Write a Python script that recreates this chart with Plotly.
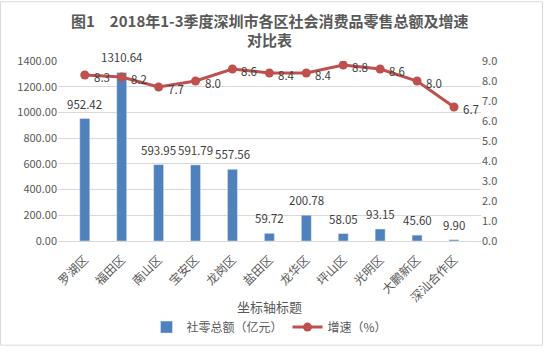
import plotly.graph_objects as go

categories = ["罗湖区", "福田区", "南山区", "宝安区", "龙岗区", "盐田区", "龙华区", "坪山区", "光明区", "大鹏新区", "深汕合作区"]
sales = [952.42, 1310.64, 593.95, 591.79, 557.56, 59.72, 200.78, 58.05, 93.15, 45.60, 9.90]
growth = [8.3, 8.2, 7.7, 8.0, 8.6, 8.4, 8.4, 8.8, 8.6, 8.0, 6.7]

FONT = "Noto Sans CJK SC"
GRAY = "#595959"
PW, PH = 423, 184
L, R, T, B = 58, 63, 61, 108

fig = go.Figure()
fig.add_trace(go.Bar(x=categories, y=sales, name="社零总额（亿元）",
                     marker_color="#4F81BD", width=0.27, yaxis="y"))
fig.add_trace(go.Scatter(x=categories, y=growth, name="增速（%）", mode="lines+markers",
                         line=dict(color="#C0504D", width=3),
                         marker=dict(color="#C0504D", size=9), yaxis="y2"))

ann = []
for c, v in zip(categories, sales):
    ann.append(dict(x=c, y=v, xref="x", yref="y", text=f"{v:.2f}", showarrow=False,
                    yanchor="bottom", yshift=5, font=dict(size=11.5, color="#404040", family=FONT)))
for c, v in zip(categories, growth):
    ann.append(dict(x=c, y=v, xref="x", yref="y2", text=f"{v:.1f}", showarrow=False,
                    xanchor="left", xshift=7, yshift=-2, font=dict(size=11.5, color="#404040", family=FONT)))
ann.append(dict(x=0.5, y=1 + (T - 20) / PH, xref="paper", yref="paper", yanchor="middle",
                text="<b>图1　2018年1-3季度深圳市各区社会消费品零售总额及增速</b>",
                showarrow=False, font=dict(size=15, color=GRAY, family=FONT)))
ann.append(dict(x=0.5, y=1 + (T - 39) / PH, xref="paper", yref="paper", yanchor="middle",
                text="<b>对比表</b>",
                showarrow=False, font=dict(size=15, color=GRAY, family=FONT)))
ann.append(dict(x=0.5, y=-(312 - (353 - B)) / PH, xref="paper", yref="paper", yanchor="middle",
                text="坐标轴标题", showarrow=False, font=dict(size=13, color=GRAY, family=FONT)))

fig.update_layout(
    width=544, height=353,
    margin=dict(l=L, r=R, t=T, b=B),
    paper_bgcolor="white", plot_bgcolor="white",
    font=dict(family=FONT, color=GRAY, size=11),
    xaxis=dict(tickangle=-45, tickfont=dict(size=12, color=GRAY), showline=True,
               linecolor="#D9D9D9", ticks="", automargin=False, ticklabelstandoff=6),
    yaxis=dict(range=[0, 1400], dtick=200, tickformat=".2f", gridcolor="#D9D9D9",
               zeroline=False, tickfont=dict(size=11, color=GRAY), automargin=False),
    yaxis2=dict(range=[0, 9], dtick=1, tickformat=".1f", overlaying="y", side="right",
                showgrid=False, zeroline=False, tickfont=dict(size=11, color=GRAY), automargin=False),
    legend=dict(orientation="h", x=0.5, xanchor="center", y=-(333 - (353 - B)) / PH, yanchor="middle",
                font=dict(size=12, color=GRAY, family=FONT)),
    annotations=ann,
    shapes=[dict(type="rect", xref="paper", yref="paper",
                 x0=-(L - 0.5) / PW, x1=1 + (R - 1.5) / PW, y0=-(B - 1.5) / PH, y1=1 + (T - 0.5) / PH,
                 line=dict(color="#D9D9D9", width=1))],
)

fig.write_html("out.html")
